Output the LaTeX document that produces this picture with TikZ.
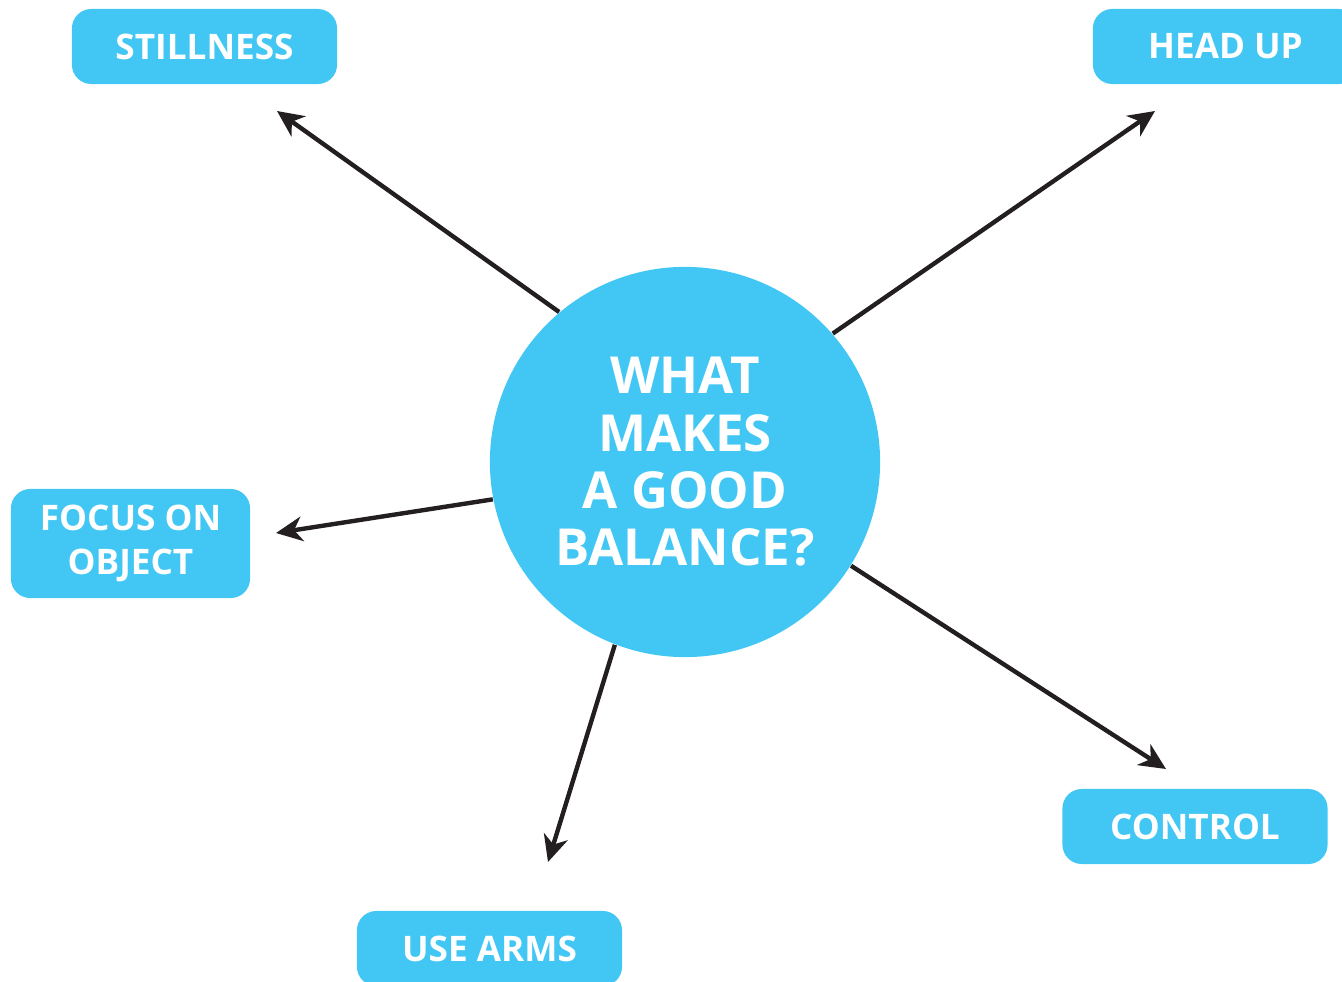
\documentclass[tikz,border=0pt]{standalone}
\usepackage{fontspec}
\setmainfont{Open Sans}
\usetikzlibrary{arrows.meta}
\definecolor{balblue}{HTML}{42C7F4}

\begin{document}
\begin{tikzpicture}[x=0.01cm,y=-0.01cm,
	tag/.style={fill=balblue,rounded corners=5.5pt,inner sep=0pt,
		text=white,font=\bfseries\fontsize{10}{12.5}\selectfont,align=center,
		minimum width=2.65cm,minimum height=0.75cm},
	hub/.style={circle,fill=balblue,inner sep=0pt,minimum size=3.9cm,
		text=white,font=\bfseries\fontsize{14.5}{16.3}\selectfont,align=center},
	spoke/.style={line width=1.25pt,draw={rgb,255:red,35;green,31;blue,32},
		-{Stealth[length=7.5pt,width=7pt,inset=2.3pt]}}]
	% page frame
	\useasboundingbox (0,0) rectangle (1342,982);
	% the question in the middle
	\node[hub] (hub) at (685,462) {WHAT\\MAKES\\A GOOD\\BALANCE?};
	% the answers round it
	\node[tag] (still) at (204.5,46.5) {STILLNESS};
	\node[tag] (head) at (1225.5,46.5) {HEAD UP};
	\node[tag,minimum width=2.39cm,minimum height=1.09cm] (focus) at (130.5,543.5) {FOCUS ON\\OBJECT};
	\node[tag] (ctrl) at (1195,826.5) {CONTROL};
	\node[tag] (arms) at (489.5,948.5) {USE ARMS};
	% free ends of the arrows
	\coordinate (tStill) at (277,111);
	\coordinate (tHead) at (1155,111);
	\coordinate (tFocus) at (276,533);
	\coordinate (tCtrl) at (1166,769);
	\coordinate (tArms) at (548,862);
	% arrows out of the circle
	\draw[spoke] (hub.130.3) -- (tStill);
	\draw[spoke] (hub.41.5) -- (tHead);
	\draw[spoke] (hub.191.2) -- (tFocus);
	\draw[spoke] (hub.328) -- (tCtrl);
	\draw[spoke] (hub.249.6) -- (tArms);
\end{tikzpicture}
\end{document}
